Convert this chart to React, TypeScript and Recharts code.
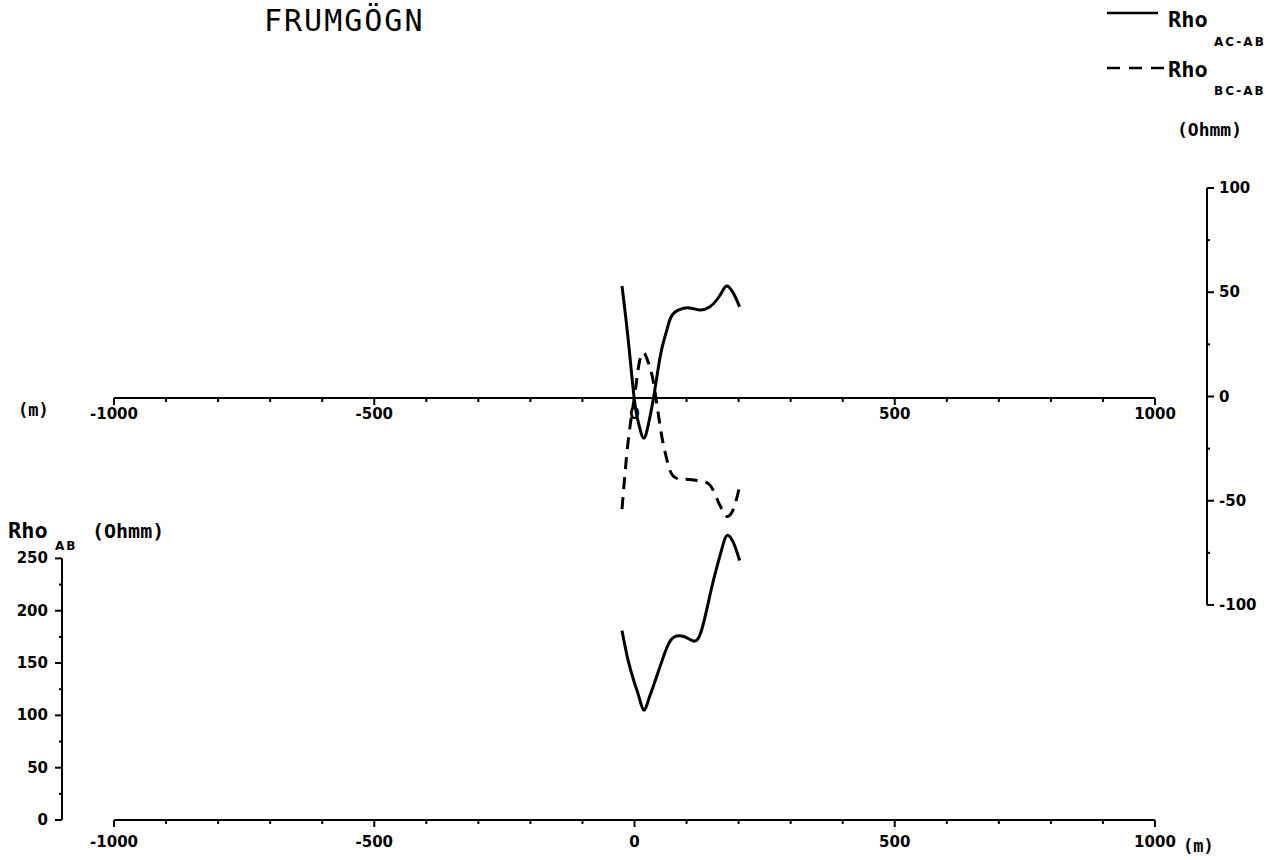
import { LineChart, Line, XAxis, YAxis, ReferenceLine } from 'recharts';

// Profile stations (m) and the three resistivity readings along them
const distance = [-24, -12, 0, 9, 18, 27, 37, 50, 60, 70, 85, 105, 125, 145, 160, 170, 178, 190, 202];
const rhoAcAb = [53, 27, -2, -14, -20, -13, 0, 20, 30, 38, 41.5, 42.5, 41.5, 43, 47, 51, 53, 49.5, 43];
const rhoBcAb = [-54, -21, 0, 16, 21, 16, 6, -15.5, -28, -36.5, -39.5, -39.8, -40.5, -42.5, -50, -55, -57.5, -54, -43];
const rhoAb = [181, 152, 131, 117, 105, 115, 129, 148, 162, 172, 176, 173, 176, 215, 245, 263, 272, 265, 248];

const xTicks = [-1000, -900, -800, -700, -600, -500, -400, -300, -200, -100, 0, 100, 200, 300, 400, 500, 600, 700, 800, 900, 1000];
const diffTicks = [-100, -75, -50, -25, 0, 25, 50, 75, 100];
const abTicks = [0, 25, 50, 75, 100, 125, 150, 175, 200, 225, 250];

const profile = distance.map((x, i) => ({ x, acAb: rhoAcAb[i], bcAb: rhoBcAb[i], ab: rhoAb[i] }));

const tickFont = { fontFamily: '"DejaVu Sans", sans-serif', fontWeight: 700, fontSize: 15 };
const plotFont = { fontFamily: '"DejaVu Sans Mono", monospace', fontWeight: 700 };
const subFont = { fontFamily: '"DejaVu Sans", sans-serif', fontWeight: 700, fontSize: 12, letterSpacing: 2 };

function BottomTick(props: any) {
  const { x, y, payload, gap } = props;
  const v = payload.value;
  const major = v % 500 === 0;
  return (
    <g>
      <line x1={x} y1={y} x2={x} y2={y + (major ? 7 : 4)} stroke="#000" strokeWidth={2} />
      {major && (
        <text x={x} y={y + gap} textAnchor="middle" fill="#000" style={tickFont}>
          {v}
        </text>
      )}
    </g>
  );
}

function LeftTick(props: any) {
  const { x, y, payload } = props;
  const v = payload.value;
  const major = v % 50 === 0;
  return (
    <g>
      <line x1={x} y1={y} x2={x - (major ? 7 : 3)} y2={y} stroke="#000" strokeWidth={2} />
      {major && (
        <text x={x - 14} y={y + 5} textAnchor="end" fill="#000" style={tickFont}>
          {v}
        </text>
      )}
    </g>
  );
}

function RightTick(props: any) {
  const { x, y, payload } = props;
  const v = payload.value;
  const major = v % 50 === 0;
  return (
    <g>
      <line x1={x} y1={y} x2={x + (major ? 7 : 3)} y2={y} stroke="#000" strokeWidth={2} />
      {major && (
        <text x={x + 12} y={y + 5} textAnchor="start" fill="#000" style={tickFont}>
          {v}
        </text>
      )}
    </g>
  );
}

const layer = { position: 'absolute' as const, top: 0, left: 0 };

export default function App() {
  return (
    <div style={{ position: 'absolute', top: 0, left: 0, width: 1280, height: 860, background: '#fff' }}>
      {/* lower panel: apparent resistivity AB */}
      <div style={layer}>
        <LineChart width={1280} height={860} data={profile} margin={{ top: 527, right: 73, bottom: 0, left: 0 }}>
          <XAxis
            type="number"
            dataKey="x"
            domain={[-1100, 1100]}
            ticks={xTicks}
            interval={0}
            height={40}
            axisLine={false}
            tickLine={false}
            tickSize={0}
            tickMargin={0}
            tick={<BottomTick gap={27} />}
          />
          <YAxis
            width={62}
            domain={[0, 280]}
            ticks={abTicks}
            interval={0}
            axisLine={false}
            tickLine={false}
            tickSize={0}
            tickMargin={0}
            tick={<LeftTick />}
          />
          <ReferenceLine segment={[{ x: -1000, y: 0 }, { x: 1000, y: 0 }]} stroke="#000" strokeWidth={2} />
          <ReferenceLine segment={[{ x: -1100, y: 0 }, { x: -1100, y: 250 }]} stroke="#000" strokeWidth={2} />
          <Line dataKey="ab" type="natural" stroke="#000" strokeWidth={3} dot={false} isAnimationActive={false} />
        </LineChart>
      </div>

      {/* middle distance axis of the upper panel */}
      <div style={layer}>
        <LineChart width={1280} height={440} data={profile} margin={{ top: 0, right: 125, bottom: 0, left: 114 }}>
          <XAxis
            type="number"
            dataKey="x"
            domain={[-1000, 1000]}
            ticks={xTicks}
            interval={0}
            height={42}
            axisLine={{ stroke: '#000', strokeWidth: 2 }}
            tickLine={false}
            tickSize={0}
            tickMargin={0}
            tick={<BottomTick gap={21} />}
          />
          <YAxis hide domain={[0, 1]} allowDataOverflow />
        </LineChart>
      </div>

      {/* upper panel: AC-AB and BC-AB differences */}
      <div style={layer}>
        <LineChart width={1280} height={860} data={profile} margin={{ top: 188, right: 0, bottom: 255, left: 62 }}>
          <XAxis type="number" dataKey="x" domain={[-1100, 1100]} hide />
          <YAxis
            orientation="right"
            width={73}
            domain={[-100, 100]}
            ticks={diffTicks}
            interval={0}
            axisLine={{ stroke: '#000', strokeWidth: 2 }}
            tickLine={false}
            tickSize={0}
            tickMargin={0}
            tick={<RightTick />}
          />
          <Line dataKey="acAb" type="natural" stroke="#000" strokeWidth={3} dot={false} isAnimationActive={false} />
          <Line
            dataKey="bcAb"
            type="natural"
            stroke="#000"
            strokeWidth={3}
            strokeDasharray="12 8"
            dot={false}
            isAnimationActive={false}
          />
        </LineChart>
      </div>

      {/* title, legend and axis captions */}
      <svg width={1280} height={860} style={{ ...layer, pointerEvents: 'none' }}>
        <text x={264} y={31} fill="#000" style={{ fontFamily: '"DejaVu Sans Mono", monospace', fontSize: 30, letterSpacing: 2 }}>
          FRUMGÖGN
        </text>

        <line x1={1107} y1={13} x2={1158} y2={13} stroke="#000" strokeWidth={2.5} />
        <text x={1168} y={27} fill="#000" style={{ ...plotFont, fontSize: 22 }}>Rho</text>
        <text x={1214} y={46} fill="#000" style={subFont}>AC-AB</text>

        <line x1={1107} y1={68} x2={1165} y2={68} stroke="#000" strokeWidth={2.5} strokeDasharray="13 9" />
        <text x={1168} y={77} fill="#000" style={{ ...plotFont, fontSize: 22 }}>Rho</text>
        <text x={1214} y={95} fill="#000" style={subFont}>BC-AB</text>

        <text x={1177} y={136} fill="#000" style={{ ...plotFont, fontSize: 18 }}>(Ohmm)</text>

        <text x={18} y={416} fill="#000" style={{ ...plotFont, fontSize: 17 }}>(m)</text>
        <text x={1183} y={852} fill="#000" style={{ ...plotFont, fontSize: 17 }}>(m)</text>

        <text x={8} y={538} fill="#000" style={{ ...plotFont, fontSize: 22 }}>Rho</text>
        <text x={55} y={550} fill="#000" style={subFont}>AB</text>
        <text x={92} y={538} fill="#000" style={{ ...plotFont, fontSize: 20 }}>(Ohmm)</text>
      </svg>
    </div>
  );
}
